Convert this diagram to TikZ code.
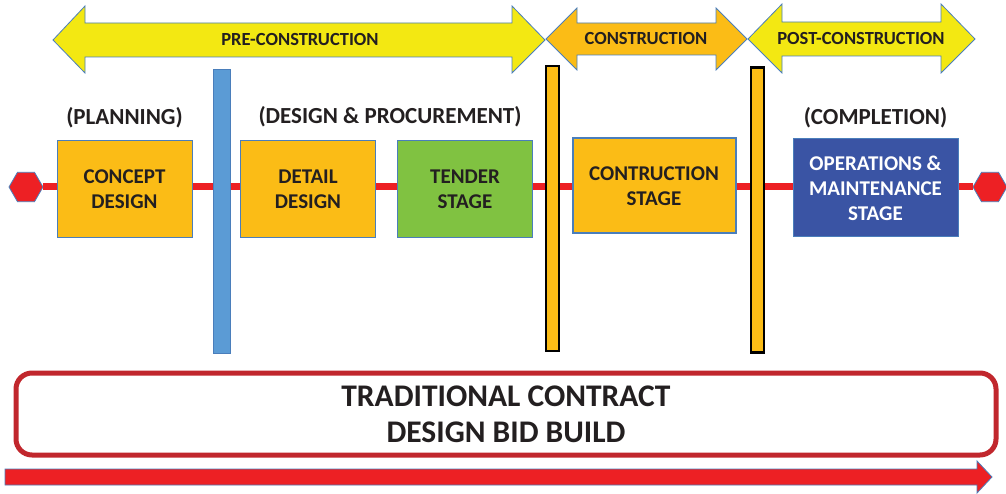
\documentclass[tikz,border=0pt]{standalone}
\usepackage{fontspec}
\setmainfont{Carlito}
\usepackage{tikz}
\usetikzlibrary{shapes.geometric,positioning}

\definecolor{phaseyellow}{RGB}{243,232,18}
\definecolor{phaseorange}{RGB}{251,188,22}
\definecolor{edgeblue}{RGB}{74,126,187}
\definecolor{barblue}{RGB}{91,155,213}
\definecolor{tendergreen}{RGB}{128,194,65}
\definecolor{opsblue}{RGB}{58,84,164}
\definecolor{linered}{RGB}{237,32,36}
\definecolor{framered}{RGB}{193,39,45}
\definecolor{textgray}{RGB}{35,31,32}

\begin{document}
\begin{tikzpicture}[x=1pt,y=-1pt]
            \tikzstyle{phase text}=[text=textgray,font=\bfseries\fontsize{18.5}{22}\selectfont]
            \tikzstyle{stage box}=[draw=edgeblue,line width=1pt,align=center,minimum width=135pt,minimum height=97pt,fill=phaseorange,text=textgray,font=\bfseries\fontsize{21}{25}\selectfont]
            \tikzstyle{stage label}=[text=textgray,font=\bfseries\fontsize{23}{27}\selectfont]
            \tikzstyle{end mark}=[regular polygon,regular polygon sides=6,minimum size=34pt,inner sep=0pt,fill=linered,draw=edgeblue,line width=0.8pt]
            \tikzstyle{gate}=[draw=black,line width=2.5pt,fill=phaseorange,minimum width=13pt,minimum height=285pt,inner sep=0pt]
            \useasboundingbox (0,0) rectangle (1006,494);

            \draw[edgeblue,fill=phaseyellow,line width=0.8pt] (53,40) -- (85,6) -- (85,23) -- (512,23) -- (512,6) -- (545,40)
                -- (512,73) -- (512,57) -- (85,57) -- (85,73) -- cycle;
            \draw[edgeblue,fill=phaseorange,line width=0.8pt] (546,39) -- (577,8) -- (577,23) -- (716,23) -- (716,8) -- (747,39)
                -- (716,70) -- (716,55) -- (577,55) -- (577,70) -- cycle;
            \draw[edgeblue,fill=phaseyellow,line width=0.8pt] (748,39) -- (782,4) -- (782,22) -- (941,22) -- (941,4) -- (975,39)
                -- (941,73) -- (941,56) -- (782,56) -- (782,73) -- cycle;
            \node[phase text] (pre) at (300,40) {PRE-CONSTRUCTION};
            \node[phase text] (con) at (646,39) {CONSTRUCTION};
            \node[phase text] (post) at (861,39) {POST-CONSTRUCTION};

            \node[end mark] (startmark) at (26,187) {};
            \node[end mark] (endmark) at (990,187) {};
            \draw[linered,line width=7pt] (startmark) -- (endmark);

            \node[draw=edgeblue,fill=barblue,line width=0.6pt,minimum width=17pt,minimum height=284pt,inner sep=0pt] (split) at (221.5,211) {};
            \node[gate] (gateA) at (552.5,208.5) {};
            \node[gate] (gateB) at (757.5,210) {};

            \node[stage box] (concept) at (124.5,189.5) {CONCEPT\\DESIGN};
            \node[stage box] (detail) at (308,189.5) {DETAIL\\DESIGN};
            \node[stage box,fill=tendergreen] (tender) [right of=detail,node distance=157pt] {TENDER\\STAGE};
            \node[stage box,line width=2pt,minimum width=163pt,minimum height=95pt] (build) at (654,186) {CONTRUCTION\\STAGE};
            \node[stage box,fill=opsblue,text=white,minimum width=165pt,minimum height=98pt] (ops) at (875.5,188) {OPERATIONS \&\\MAINTENANCE\\STAGE};

            \node[stage label] (planning) [above of=concept,node distance=72pt] {(PLANNING)};
            \node[stage label] (procure) at (390,117) {(DESIGN \& PROCUREMENT)};
            \node[stage label] (completion) [above of=ops,node distance=70pt] {(COMPLETION)};

            \node[draw=framered,line width=5pt,rounded corners=16pt,minimum width=980pt,minimum height=82pt,align=center,text=textgray,font=\bfseries\fontsize{31.5}{36}\selectfont] (contract) at (506,414) {TRADITIONAL CONTRACT\\DESIGN BID BUILD};

            \draw[edgeblue,fill=linered,line width=0.8pt] (5,469) -- (977,469) -- (977,461) -- (992,477) -- (977,493) -- (977,485) -- (5,485) -- cycle;
        \end{tikzpicture}
\end{document}
